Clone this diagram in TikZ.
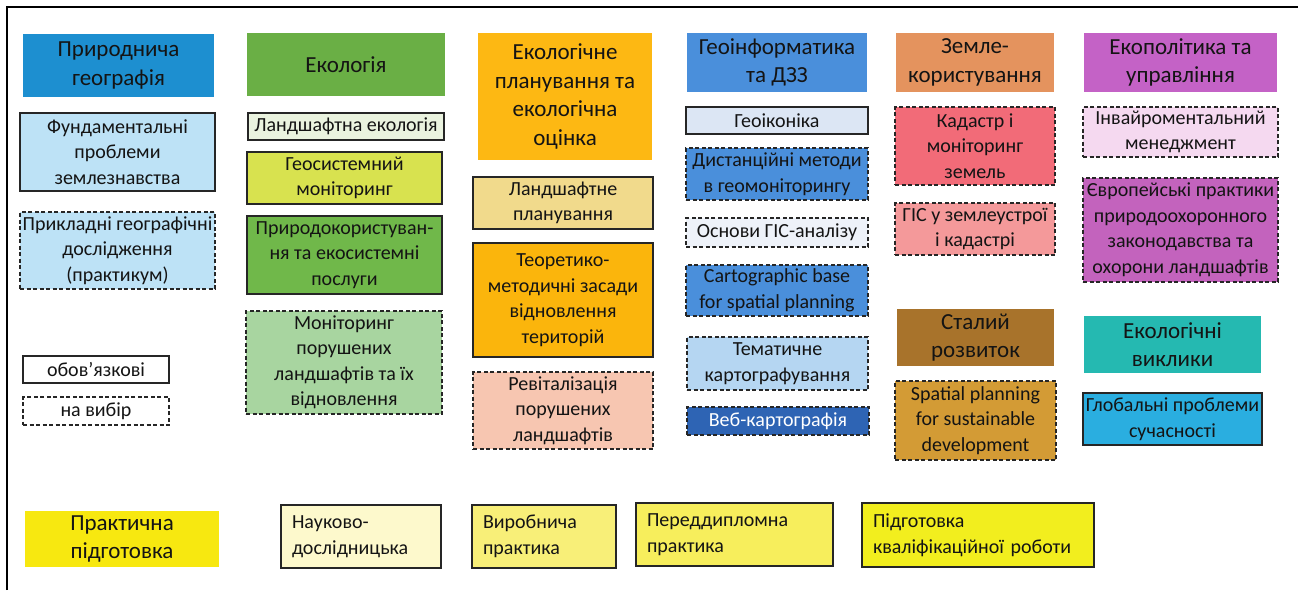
\documentclass[tikz,border=0pt]{standalone}
\usepackage{fontspec}
\setmainfont{Carlito}
\definecolor{cPG}{HTML}{1D8FD0}
\definecolor{cECO}{HTML}{6AAF45}
\definecolor{cEPL}{HTML}{FDB813}
\definecolor{cGIS}{HTML}{4A8FDB}
\definecolor{cZK}{HTML}{E4935E}
\definecolor{cEPOL}{HTML}{C462C6}
\definecolor{cLB}{HTML}{BDE2F6}
\definecolor{cLE}{HTML}{EAF3DF}
\definecolor{cGM}{HTML}{D8E24F}
\definecolor{cPK}{HTML}{70B84A}
\definecolor{cMON}{HTML}{A8D5A0}
\definecolor{cLP}{HTML}{F1DA8C}
\definecolor{cTM}{HTML}{FBB50C}
\definecolor{cREV}{HTML}{F7C6B1}
\definecolor{cGK}{HTML}{DCE6F4}
\definecolor{cOGIS}{HTML}{EEF2F9}
\definecolor{cTK}{HTML}{B5D6F2}
\definecolor{cWK}{HTML}{2E64B4}
\definecolor{cKAD}{HTML}{F26B78}
\definecolor{cGISZ}{HTML}{F4999A}
\definecolor{cSR}{HTML}{A8732B}
\definecolor{cSP}{HTML}{D39B35}
\definecolor{cIM}{HTML}{F5D9F0}
\definecolor{cEP}{HTML}{C363BD}
\definecolor{cEV}{HTML}{25B9B1}
\definecolor{cGP}{HTML}{2AAEE0}
\definecolor{cPP}{HTML}{F7E810}
\definecolor{cND}{HTML}{FDF9CC}
\definecolor{cVP}{HTML}{F8EF78}
\definecolor{cPDP}{HTML}{F7EE5C}
\definecolor{cPKR}{HTML}{F2EE1E}
\begin{document}
\begin{tikzpicture}[x=1pt,y=-1pt,
  bx/.style={draw=black!85, line width=1.5pt, inner sep=0pt, align=center, text=black!92, font=\fontsize{20}{25.5}\selectfont},
  dsh/.style={bx, dash pattern=on 4pt off 2.5pt},
  hd/.style={inner sep=0pt, align=center, text=black!92, font=\fontsize{23}{28.5}\selectfont},
  lft/.style={bx, align=left}]
\useasboundingbox (0,0) rectangle (1298,590);
\fill[white] (0,0) rectangle (1298,590);
\draw[line width=2pt] (7,590) -- (7,7) -- (1298,7);
% headers
\node[hd, fill=cPG, minimum width=191pt, minimum height=63pt] (pg) at (118.5,65.5) {Природнича\\географія};
\node[hd, fill=cECO, minimum width=198pt, minimum height=63pt] (eco) at (346,64.5) {Екологія};
\node[hd, fill=cEPL, minimum width=174pt, minimum height=127pt] (epl) at (565,96.5) {Екологічне\\планування та\\екологічна\\оцінка};
\node[hd, fill=cGIS, minimum width=180pt, minimum height=59pt] (gis) at (777,62.5) {Геоінформатика\\та ДЗЗ};
\node[hd, fill=cZK, minimum width=158pt, minimum height=59pt] (zk) at (975,62.5) {Земле-\\користування};
\node[hd, fill=cEPOL, minimum width=193pt, minimum height=59pt] (epol) at (1180.5,62.5) {Екополітика та\\управління};
\node[hd, fill=cSR, minimum width=157pt, minimum height=57pt] (sr) at (975.5,337.5) {Сталий\\розвиток};
\node[hd, fill=cEV, minimum width=177pt, minimum height=57pt] (ev) at (1172.5,344.5) {Екологічні\\виклики};
\node[hd, fill=cPP, minimum width=194pt, minimum height=56pt] (pp) at (122,539) {Практична\\підготовка};
% column 1
\node[bx, fill=cLB, minimum width=195pt, minimum height=78pt] (fund) at (117.5,152) {Фундаментальні\\проблеми\\землезнавства};
\node[dsh, fill=cLB, minimum width=195pt, minimum height=77pt] (prykl) at (117.5,250.5) {Прикладні географічні\\дослідження\\(практикум)};
\node[bx, fill=white, minimum width=146pt, minimum height=27pt] (ob) at (96,369.5) {обов’язкові};
\node[dsh, fill=white, minimum width=146pt, minimum height=28pt] (nv) at (96,411) {на вибір};
% column 2
\node[bx, fill=cLE, minimum width=196pt, minimum height=27pt] (le) at (346,126.5) {Ландшафтна екологія};
\node[bx, fill=cGM, minimum width=195pt, minimum height=52pt] (gm) at (344.5,178) {Геосистемний\\моніторинг};
\node[bx, fill=cPK, minimum width=195pt, minimum height=78pt] (pk) at (344.5,255) {Природокористуван-\\ня та екосистемні\\послуги};
\node[dsh, fill=cMON, minimum width=196pt, minimum height=103pt] (mon) at (344,362.5) {Моніторинг\\порушених\\ландшафтів та їх\\відновлення};
% column 3
\node[bx, fill=cLP, minimum width=180pt, minimum height=52pt] (lp) at (563,203) {Ландшафтне\\планування};
\node[bx, fill=cTM, minimum width=180pt, minimum height=114pt] (tm) at (563,300) {Теоретико-\\методичні засади\\відновлення\\територій};
\node[dsh, fill=cREV, minimum width=180pt, minimum height=77pt] (rev) at (563,410.5) {Ревіталізація\\порушених\\ландшафтів};
% column 4
\node[bx, fill=cGK, minimum width=182pt, minimum height=27pt] (gk) at (777,120.5) {Геоіконіка};
\node[dsh, fill=cGIS, minimum width=182pt, minimum height=52pt] (dm) at (777,174) {Дистанційні методи\\в геомоніторингу};
\node[dsh, fill=cOGIS, minimum width=182pt, minimum height=29pt] (ogis) at (777,232.5) {Основи ГІС-аналізу};
\node[dsh, fill=cGIS, minimum width=182pt, minimum height=51pt] (cb) at (777,290.5) {Cartographic base\\for spatial planning};
\node[dsh, fill=cTK, minimum width=181pt, minimum height=53pt] (tk) at (777.5,363.5) {Тематичне\\картографування};
\node[dsh, fill=cWK, text=white, minimum width=182pt, minimum height=28pt] (wk) at (778,421) {Веб-картографія};
% column 5
\node[dsh, fill=cKAD, minimum width=160pt, minimum height=78pt] (kad) at (975,146) {Кадастр і\\моніторинг\\земель};
\node[dsh, fill=cGISZ, minimum width=160pt, minimum height=52pt] (gisz) at (975,229) {ГІС у землеустрої\\і кадастрі};
\node[dsh, fill=cSP, minimum width=161pt, minimum height=79pt] (sp) at (975.5,420.5) {Spatial planning\\for sustainable\\development};
% column 6
\node[dsh, fill=cIM, minimum width=195pt, minimum height=50pt] (im) at (1180.5,132) {Інвайроментальний\\менеджмент};
\node[dsh, fill=cEP, minimum width=195pt, minimum height=104pt] (ep) at (1180.5,230) {Європейські практики\\природоохоронного\\законодавства та\\охорони ландшафтів};
\node[bx, fill=cGP, minimum width=179pt, minimum height=52pt] (gp) at (1172.5,419) {Глобальні проблеми\\сучасності};
% bottom row
\node[lft, fill=cND, minimum width=160pt, minimum height=63pt, text width=138pt] (nd) at (361,536.5) {Науково-\\дослідницька};
\node[lft, fill=cVP, minimum width=144pt, minimum height=63pt, text width=122pt] (vp) at (544,536.5) {Виробнича\\практика};
\node[lft, fill=cPDP, minimum width=197pt, minimum height=63pt, text width=175pt] (pdp) at (734.5,534.5) {Переддипломна\\практика};
\node[lft, fill=cPKR, minimum width=232pt, minimum height=64pt, text width=210pt] (pkr) at (978,535) {Підготовка\\кваліфікаційної роботи};
\end{tikzpicture}
\end{document}
